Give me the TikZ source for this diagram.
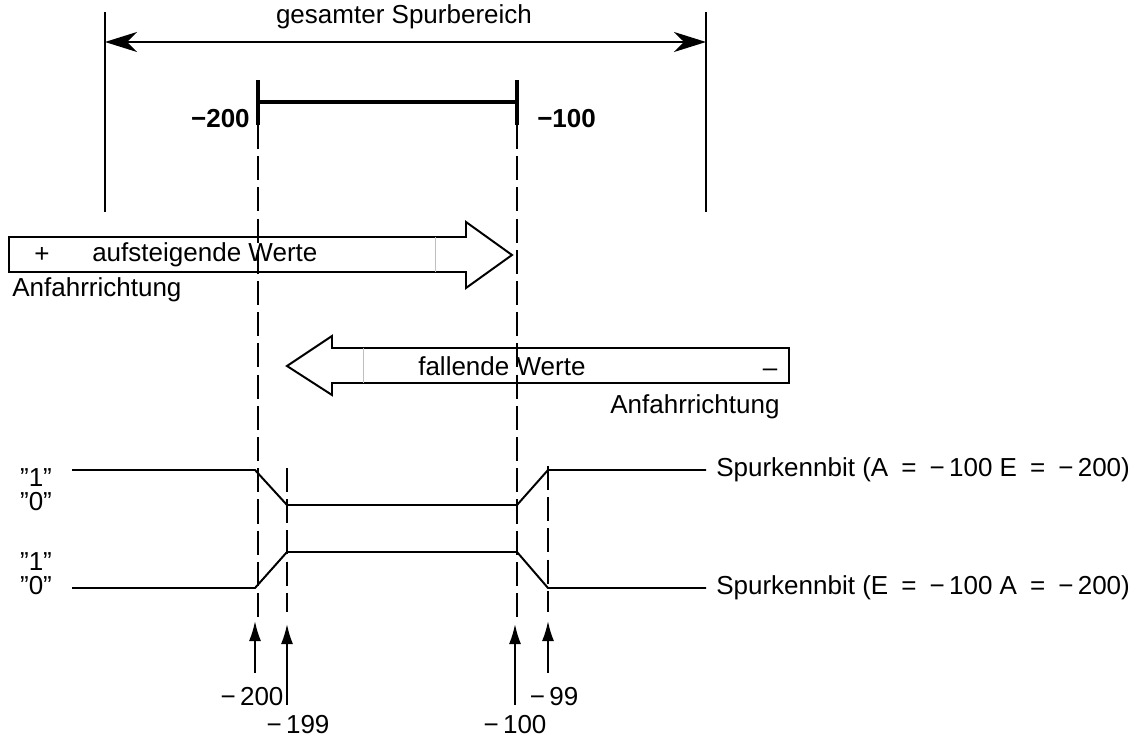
\documentclass[tikz,border=0pt]{standalone}
\usepackage{fontspec}
\setmainfont{Liberation Sans}
\usetikzlibrary{arrows.meta}
\begin{document}
\begin{tikzpicture}[
        x=0.025cm, y=-0.025cm,
        every node/.style={font=\fontsize{18.5}{22}\selectfont, inner sep=0pt},
        lin/.style={line width=1.4pt},
        bold bar/.style={line width=3pt},
        dashline/.style={line width=1.4pt, dash pattern=on 0.6cm off 0.18cm},
        blockarrow/.style={line width=1.4pt, line join=miter},
        divider/.style={line width=0.5pt, draw=black!25},
        bigtip/.style={line width=1.4pt, {Stealth[length=8mm, width=5mm, inset=2.5mm]}-{Stealth[length=8mm, width=5mm, inset=2.5mm]}},
        uptip/.style={line width=1.4pt, -{Latex[length=5mm, width=3mm]}}
    ]
    \useasboundingbox (0,0) rectangle (1141,740);

    \coordinate (lt) at (105,12);  \coordinate (lb) at (105,212);
    \coordinate (rt) at (706,12);  \coordinate (rb) at (706,212);
    \coordinate (ga) at (105,42);  \coordinate (gb) at (706,42);
    \draw[lin] (lt) -- (lb);
    \draw[lin] (rt) -- (rb);
    \draw[bigtip] (ga) -- (gb);
    \node (ges) at (404,17) {gesamter Spurbereich};

    \coordinate (b200) at (258,102); \coordinate (b100) at (517,102);
    \coordinate (t200a) at (258,80); \coordinate (t200b) at (258,125);
    \coordinate (t100a) at (517,80); \coordinate (t100b) at (517,125);
    \draw[bold bar] (b200) -- (b100);
    \draw[bold bar] (t200a) -- (t200b);
    \draw[bold bar] (t100a) -- (t100b);
    \node[anchor=east] (m200) at (250,119) {\bfseries −200};
    \node[anchor=west] (m100) at (537,119) {\bfseries −100};

    \coordinate (d200) at (258,617); \coordinate (d100) at (517,617);
    \coordinate (d199a) at (287,468); \coordinate (d199) at (287,612);
    \coordinate (d99a) at (548,466);  \coordinate (d99) at (548,612);
    \draw[dashline] (t200b) -- (d200);
    \draw[dashline] (t100b) -- (d100);
    \draw[dashline] (d199a) -- (d199);
    \draw[dashline] (d99a) -- (d99);

    \draw[blockarrow] (9,237) -- (466,237) -- (466,222) -- (512,255)
        -- (466,288) -- (466,272) -- (9,272) -- cycle;
    \draw[divider] (435,237) -- (435,272);
    \node (plus) at (42,255) {+};
    \node[anchor=west] (auf) at (92,255) {aufsteigende Werte};
    \node[anchor=west] (anf1) at (12,290) {Anfahrrichtung};

    \draw[blockarrow] (789,348) -- (332,348) -- (332,336) -- (287,366)
        -- (332,395) -- (332,383) -- (789,383) -- cycle;
    \draw[divider] (363,348) -- (363,383);
    \node[anchor=west] (fal) at (418,366) {fallende Werte};
    \node[anchor=base] (minus) at (770,376) {–};
    \node[anchor=west] (anf2) at (610,407) {Anfahrrichtung};

    \node (h1) at (36,478) {”1”};
    \node (l1) at (36,502) {”0”};
    \node (h2) at (36,562) {”1”};
    \node (l2) at (36,586) {”0”};
    \draw[lin] (72,470) -- (255,470) -- (287,505) -- (517,505) -- (548,470) -- (706,470);
    \draw[lin] (72,588) -- (255,588) -- (287,552) -- (517,552) -- (548,588) -- (706,588);
    \node[anchor=west] (sk1) at (716,470) {Spurkennbit (A\enspace=\enspace−\,100 E\enspace=\enspace−\,200)};
    \node[anchor=west] (sk2) at (716,588) {Spurkennbit (E\enspace=\enspace−\,100 A\enspace=\enspace−\,200)};

    \coordinate (a200) at (255,673); \coordinate (a199) at (287,705);
    \coordinate (a100) at (515,705); \coordinate (a99) at (548,673);
    \draw[uptip] (a200) -- (255,621);
    \draw[uptip] (a199) -- (287,624);
    \draw[uptip] (a100) -- (515,624);
    \draw[uptip] (a99) -- (548,621);
    \node (n200) at (252,697) {−\,200};
    \node (n199) at (298,725) {−\,199};
    \node (n100) at (515,725) {−\,100};
    \node (n99) at (554,697) {−\,99};
\end{tikzpicture}
\end{document}
